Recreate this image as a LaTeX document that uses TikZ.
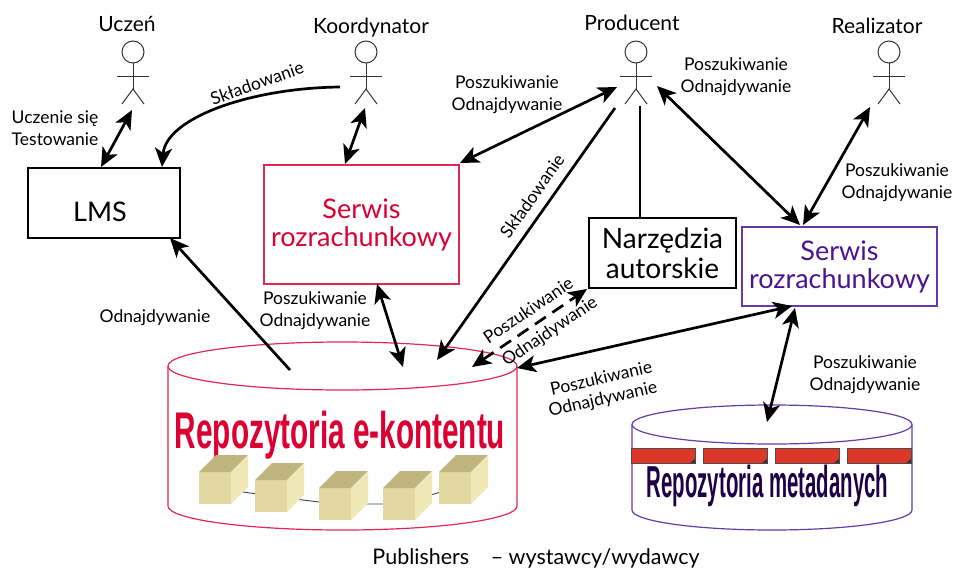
\documentclass[tikz,border=0pt]{standalone}
\usepackage{graphicx}
\usepackage{fontspec}
\setmainfont{Lato}
\newfontfamily\repofont{Liberation Sans}
\usetikzlibrary{arrows.meta,calc}

\definecolor{serwisred}{RGB}{220,0,50}
\definecolor{serwisredline}{RGB}{225,40,80}
\definecolor{serwisviolet}{RGB}{75,20,145}
\definecolor{serwisvioletline}{RGB}{100,60,165}
\definecolor{metaink}{RGB}{30,0,70}
\definecolor{cubefront}{RGB}{226,217,160}
\definecolor{cubetop}{RGB}{190,180,125}
\definecolor{cubeside}{RGB}{240,232,182}
\definecolor{tagred}{RGB}{220,55,40}

\newcommand\lblfont{\fontsize{17.5}{22}\selectfont}
\newcommand\actorfont{\fontsize{21}{24}\selectfont}
\newcommand\boxfont{\fontsize{27}{28}\selectfont}

% one content block drawn as a small 3D cube (front, top, side)
\newcommand\contentcube[2]{%
  \fill[cubefront] (#1,#2) rectangle ++(32,32);
  \fill[cubetop] (#1,#2) -- ++(17,-17) -- ++(32,0) -- ++(-17,17) -- cycle;
  \fill[cubeside] (#1+32,#2) -- ++(17,-17) -- ++(0,32) -- ++(-17,17) -- cycle;
}
% one metadata record tag
\newcommand\metatag[1]{%
  \filldraw[fill=tagred,draw=black!70,line width=0.8pt] (#1,448) rectangle ++(64,15);
  \fill[black!80] (#1+64,463) -- ++(-5,0) -- ++(5,-4) -- cycle;
}

\tikzset{
  figline/.style={line width=1pt,draw=black!80},
  actor/.pic={
    \draw[figline] (0,0) circle (11);
    \draw[figline] (0,11) -- (0,37);
    \draw[figline] (-16,24) -- (16,24);
    \draw[figline] (-11,52) -- (0,37) -- (11,52);
  },
  lbl/.style={font=\lblfont,align=center,inner sep=0pt},
  actorname/.style={font=\actorfont,inner sep=0pt,anchor=base},
  link/.style={line width=2.7pt,<->},
  onelink/.style={line width=2.7pt,->},
  plainbox/.style={draw=black,line width=1.3pt,inner sep=0pt},
  >={Stealth[length=19pt,width=17pt,inset=5pt]},
}

\begin{document}
\begin{tikzpicture}[x=1pt,y=-1pt]
\useasboundingbox (0,0) rectangle (955,570);

% ---------- actors ----------
\node[actorname] (uczen) at (127,31) {Uczeń};
\node[actorname] (koord) at (371,33) {Koordynator};
\node[actorname] (prod) at (632,30) {Producent};
\node[actorname] (real) at (877,33) {Realizator};
\pic at (133,52) {actor};
\pic at (366,52) {actor};
\pic at (636,52) {actor};
\pic at (889,52) {actor};

% ---------- boxes ----------
\node[plainbox,minimum width=152pt,minimum height=70pt] (lms) at (104,203) {};
\node[font=\boxfont,inner sep=0pt] (lmstxt) at (100,212) {LMS};

\node[draw=serwisredline,line width=1.2pt,minimum width=195pt,minimum height=119pt,
      text=serwisred,font=\boxfont,align=center] (serwisA) at (361.5,224.5)
      {Serwis\\rozrachunkowy};

\node[plainbox,minimum width=147pt,minimum height=70pt,font=\fontsize{28}{30}\selectfont,
      align=center] (narz) at (662.5,253) {Narzędzia\\autorskie};

\node[draw=serwisvioletline,line width=1.3pt,minimum width=195pt,minimum height=79pt,
      text=serwisviolet,font=\boxfont,align=center] (serwisB) at (839.5,266.5)
      {Serwis\\rozrachunkowy};

% ---------- content repository (cylinder) ----------
\draw[serwisredline,line width=1.2pt] (342.5,366) ellipse [x radius=174.5,y radius=24];
\draw[serwisredline,line width=1.2pt] (168,366) -- (168,506)
  arc [start angle=180,end angle=0,x radius=174.5,y radius=24] -- (517,366);
\node[anchor=base,inner sep=0pt,text=serwisred] (repoA) at (340,448)
  {\scalebox{0.743}[1.29]{\repofont\bfseries\fontsize{40}{40}\selectfont Repozytoria e-kontentu}};
\draw[black!75,line width=0.9pt] (215,488) -- (271,496) -- (335,504) -- (399,504) -- (455,488);
\contentcube{199}{472}
\contentcube{255}{480}
\contentcube{319}{488}
\contentcube{383}{488}
\contentcube{439}{472}

% ---------- metadata repository (cylinder) ----------
\draw[serwisvioletline,line width=1.2pt] (772,424.5) ellipse [x radius=140,y radius=19.5];
\draw[serwisvioletline,line width=1.2pt] (632,424.5) -- (632,510)
  arc [start angle=180,end angle=0,x radius=140,y radius=20] -- (912,424.5);
\metatag{631}
\metatag{703}
\metatag{775}
\metatag{847}
\node[anchor=base,inner sep=0pt,text=metaink] (repoB) at (767.5,497)
  {\scalebox{0.51}[1.12]{\repofont\bfseries\fontsize{40}{40}\selectfont Repozytoria metadanych}};

% ---------- connector end points ----------
\coordinate (uczen-f) at (132,110);   \coordinate (lms-n1) at (101,167);
\coordinate (koord-h) at (340,87);    \coordinate (lms-n2) at (162,167);
\coordinate (koord-f) at (365,108);   \coordinate (serwisA-n) at (345,164);
\coordinate (prod-l) at (617,87);     \coordinate (serwisA-ne) at (460,163);
\coordinate (prod-f) at (615,108);    \coordinate (repoA-in) at (437,360);
\coordinate (prod-b) at (640,106);    \coordinate (narz-n) at (640,218);
\coordinate (prod-r) at (657,86);     \coordinate (serwisB-n1) at (800,225);
\coordinate (real-f) at (870,107);    \coordinate (serwisB-n2) at (803,225);
\coordinate (repoA-top) at (290,370); \coordinate (lms-se) at (170,238);
\coordinate (serwisA-s) at (377,284); \coordinate (repoA-mid) at (403,367);
\coordinate (repoA-r1) at (472,367);  \coordinate (narz-sw) at (587,289);
\coordinate (repoA-r2) at (517,368);  \coordinate (serwisB-s1) at (792,306);
\coordinate (serwisB-s2) at (795,308); \coordinate (repoB-top) at (767,422);

% ---------- connectors ----------
\draw[link] (uczen-f) -- (lms-n1);
\draw[onelink] (koord-h) .. controls (250,88) and (166,118) .. (lms-n2);
\draw[link] (koord-f) -- (serwisA-n);
\draw[link] (prod-l) -- (serwisA-ne);
\draw[onelink] (prod-f) -- (repoA-in);
\draw[line width=2.7pt] (prod-b) -- (narz-n);
\draw[link] (prod-r) -- (serwisB-n1);
\draw[link] (real-f) -- (serwisB-n2);
\draw[onelink] (repoA-top) -- (lms-se);
\draw[link] (serwisA-s) -- (repoA-mid);
\draw[link,dashed,dash pattern=on 13pt off 8pt] (repoA-r1) -- (narz-sw);
\draw[link] (repoA-r2) -- (serwisB-s1);
\draw[link] (serwisB-s2) -- (repoB-top);

% ---------- connector labels ----------
\node[lbl] (l-ucz) at (55,128) {Uczenie się\\Testowanie};
\node[lbl,rotate=19.5] (l-skl1) at (257,83) {Składowanie};
\node[lbl] (l-prodA) at (507,95) {Poszukiwanie\\Odnajdywanie};
\node[lbl,rotate=54.8] (l-skl2) at (532,196) {Składowanie};
\node[lbl] (l-prodB) at (736,77) {Poszukiwanie\\Odnajdywanie};
\node[lbl] (l-real) at (897,183) {Poszukiwanie\\Odnajdywanie};
\node[lbl] (l-lms) at (155,318) {Odnajdywanie};
\node[lbl] (l-serA) at (315,311) {Poszukiwanie\\Odnajdywanie};
\node[lbl,rotate=34] (l-narz1) at (528,310) {Poszukiwanie};
\node[lbl,rotate=34] (l-narz2) at (550,332) {Odnajdywanie};
\node[lbl,rotate=12.7] (l-rep1) at (601,378) {Poszukiwanie};
\node[lbl,rotate=12.7] (l-rep2) at (603,400) {Odnajdywanie};
\node[lbl] (l-meta) at (865,375) {Poszukiwanie\\Odnajdywanie};

% ---------- caption ----------
\node[anchor=base,inner sep=0pt,font=\fontsize{21.5}{24}\selectfont] (pub) at (536,564)
  {Publishers\quad – wystawcy/wydawcy};
\end{tikzpicture}
\end{document}
